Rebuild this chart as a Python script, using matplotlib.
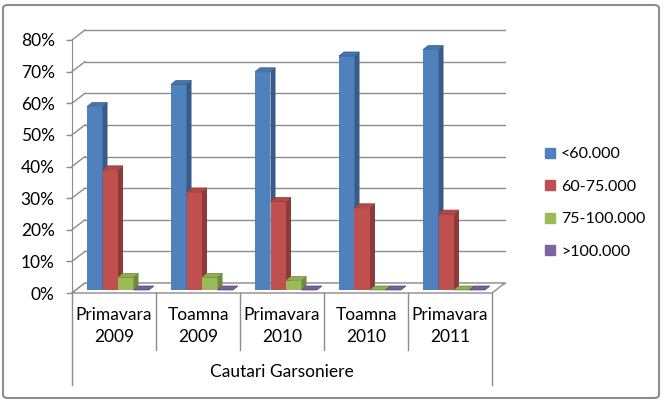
import numpy as np
import matplotlib.pyplot as plt
from matplotlib.patches import Polygon, FancyBboxPatch
from matplotlib.lines import Line2D

plt.rcParams['font.family'] = ['Lato', 'DejaVu Sans']

categories = ['Primavara\n2009', 'Toamna\n2009', 'Primavara\n2010', 'Toamna\n2010', 'Primavara\n2011']
group_label = 'Cautari Garsoniere'
series = ['<60.000', '60-75.000', '75-100.000', '>100.000']
v_lt60 = [58, 65, 69, 74, 76]
v_60_75 = [38, 31, 28, 26, 24]
v_75_100 = [4, 4, 3, 0, 0]
v_gt100 = [0, 0, 0, 0, 0]
values = [v_lt60, v_60_75, v_75_100, v_gt100]
yticks = [0, 10, 20, 30, 40, 50, 60, 70, 80]

c_front = ['#4F81BD', '#C0504D', '#9BBB59', '#8064A2']
c_side = ['#365B88', '#8E3A38', '#6F8A3C', '#5B4778']
c_top = ['#4674AC', '#B04A47', '#8FAE50', '#7560A0']
grid_c = '#8C8C8C'

W, H = 663, 401
fig = plt.figure(figsize=(W / 100, H / 100), dpi=100)
ax = fig.add_axes([72 / W, (H - 293) / H, 420 / W, 253 / H])
n = len(categories)
ax.set_xlim(0, n)
ax.set_ylim(0, 80)

# pixel -> data units
px = n / 420
py = 80 / 253
DX, DY = 13 * px, 10 * py      # wall depth
BX, BY = 4 * px, 3 * py        # bar front offset
SX, SY = 5 * px, 4 * py        # bar depth
bw = 15.5 * px
gap = (1 - 4 * bw) / 2

# back wall gridlines and left wall lines
for t in yticks:
    ax.plot([DX, n + DX], [t + DY, t + DY], color=grid_c, lw=1, clip_on=False, zorder=1)
    ax.plot([0, DX], [t, t + DY], color=grid_c, lw=1, clip_on=False, zorder=1)

# floor
floor = Polygon([(0, 0), (n, 0), (n + DX, DY), (DX, DY)], closed=True,
                facecolor='white', edgecolor=grid_c, lw=1, clip_on=False, zorder=2)
ax.add_patch(floor)

# bars
for i in range(n):
    for s in range(4):
        v = values[s][i]
        x0 = i + gap + s * bw + BX
        y0 = BY
        ax.bar(x0, v, width=bw, bottom=y0, align='edge', color=c_front[s],
               lw=0, zorder=3, clip_on=False)
        side = Polygon([(x0 + bw, y0), (x0 + bw + SX, y0 + SY),
                        (x0 + bw + SX, y0 + v + SY), (x0 + bw, y0 + v)],
                       closed=True, facecolor=c_side[s], lw=0, zorder=3, clip_on=False)
        top = Polygon([(x0, y0 + v), (x0 + bw, y0 + v),
                       (x0 + bw + SX, y0 + v + SY), (x0 + SX, y0 + v + SY)],
                      closed=True, facecolor=c_top[s], edgecolor=c_side[s], lw=0.5,
                      zorder=3, clip_on=False)
        ax.add_patch(side)
        ax.add_patch(top)

for sp in ['top', 'right', 'bottom']:
    ax.spines[sp].set_visible(False)
ax.spines['left'].set_color(grid_c)
ax.set_xticks([])
ax.set_yticks(yticks)
ax.set_yticklabels([f'{t}%' for t in yticks])
ax.tick_params(axis='y', length=4.5, color=grid_c, width=1, pad=8, labelsize=12.5)
ax.patch.set_visible(False)

# category axis dividers
d1 = -57 * py
d2 = -92 * py
for i in range(n + 1):
    bottom = d2 if i in (0, n) else d1
    ax.plot([i, i], [0, bottom], color=grid_c, lw=1, clip_on=False)
for i, c in enumerate(categories):
    ax.text(i + 0.5, -33 * py, c, ha='center', va='center', fontsize=12.5,
            linespacing=1.45)
ax.text(n / 2, -79 * py, group_label, ha='center', va='center', fontsize=12.5)

# legend
handles = [Line2D([], [], marker='s', ls='', markersize=7.2, color=c) for c in c_front]
fig.legend(handles, series, loc='upper left', bbox_to_anchor=(534 / W, 1 - 139 / H),
           frameon=False, fontsize=11.5, labelspacing=1.15, handletextpad=0.2,
           handlelength=1.0, borderpad=0)

# chart border
fig.patches.append(FancyBboxPatch((3 / W, 3 / H), 656 / W, 393 / H,
                                  boxstyle='round,pad=0,rounding_size=0.008',
                                  transform=fig.transFigure, facecolor='none',
                                  edgecolor='#8C8C8C', lw=1.5))

fig.savefig('out.png', dpi=100)
